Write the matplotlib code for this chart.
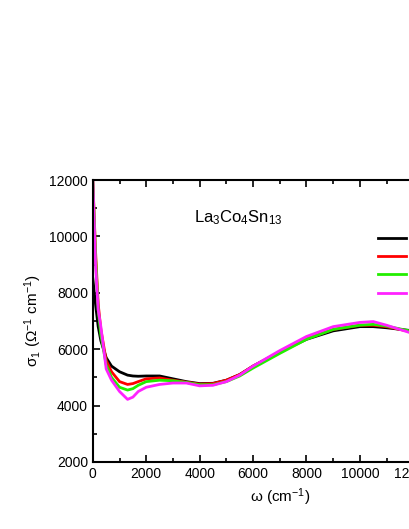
import matplotlib
matplotlib.use("Agg")
import matplotlib.pyplot as plt
import numpy as np

plt.rcParams['font.family'] = ['Liberation Sans', 'DejaVu Sans']
plt.rcParams['mathtext.default'] = 'regular'

w = [0, 100, 200, 300, 500, 700, 1000, 1300, 1500, 1700, 2000, 2500, 3000, 3500, 4000, 4500, 5000, 5500, 6000, 7000, 8000, 9000, 10000, 10500, 11000, 12000, 13000, 14000]
s300 = [8500, 7600, 6800, 6300, 5700, 5400, 5200, 5080, 5050, 5040, 5050, 5050, 4950, 4850, 4780, 4790, 4900, 5100, 5400, 5900, 6350, 6650, 6800, 6800, 6760, 6650, 6600, 6600]
s175 = [12000, 9500, 7600, 6700, 5600, 5200, 4850, 4750, 4780, 4850, 4950, 4980, 4900, 4830, 4760, 4780, 4900, 5100, 5400, 5900, 6380, 6700, 6850, 6850, 6800, 6600, 6550, 6550]
s125 = [12000, 9300, 7400, 6500, 5450, 5000, 4650, 4550, 4600, 4720, 4850, 4900, 4880, 4820, 4740, 4740, 4850, 5050, 5330, 5850, 6350, 6700, 6850, 6880, 6820, 6620, 6620, 6620]
s10 = [12000, 9000, 7400, 6800, 5300, 4900, 4500, 4220, 4300, 4500, 4650, 4750, 4800, 4800, 4700, 4720, 4850, 5080, 5400, 5950, 6450, 6800, 6950, 6980, 6850, 6550, 6500, 6500]
labels = ["300K", "175K", "125K", "10K"]
colors = ["black", "red", "#22ee00", "#ff22ff"]

fig = plt.figure(figsize=(4.09, 5.29), dpi=100)
ax = fig.add_axes([0.227, 0.1267, 0.914, 0.533])
for s, l, c in zip([s300, s175, s125, s10], labels, colors):
    ax.plot(w, s, color=c, lw=2, label=l)
ax.set_xlim(0, 14000)
ax.set_ylim(2000, 12000)
ax.set_xticks(range(0, 14001, 2000))
ax.set_xticks(range(0, 14001, 1000), minor=True)
ax.set_yticks(range(2000, 12001, 2000))
ax.set_yticks(range(2000, 12001, 1000), minor=True)
ax.tick_params(which='both', direction='in', top=True, right=True, labelsize=10, width=1.2)
ax.tick_params(which='major', length=5)
ax.tick_params(which='minor', length=3)
for sp in ax.spines.values():
    sp.set_linewidth(1.5)
ax.set_xlabel(r"ω (cm$^{-1}$)", fontsize=11)
ax.set_ylabel(r"σ$_1$ (Ω$^{-1}$ cm$^{-1}$)", fontsize=11)
ax.text(0.27, 0.85, r"La$_3$Co$_4$Sn$_{13}$", transform=ax.transAxes, fontsize=12)
ax.legend(loc='upper left', bbox_to_anchor=(0.73, 0.86), frameon=False, fontsize=10,
          handlelength=2.0, handletextpad=0.5, labelspacing=0.3)
fig.savefig("out.png", dpi=100)
